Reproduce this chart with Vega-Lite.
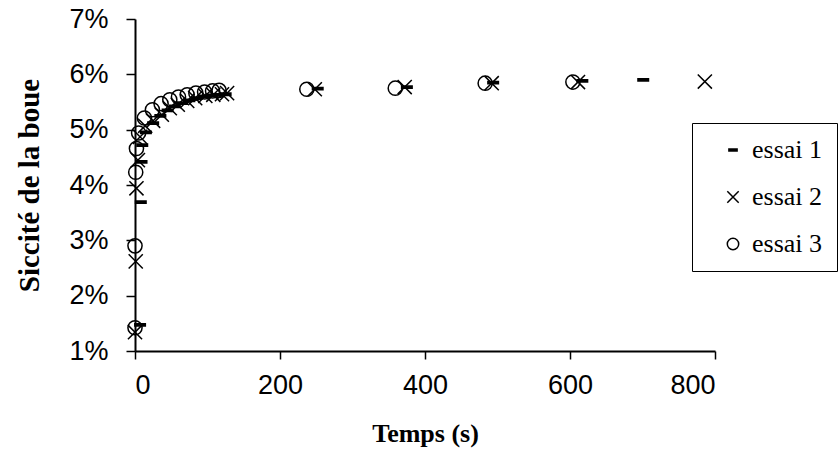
{
  "$schema": "https://vega.github.io/schema/vega-lite/v6.json",
  "autosize": {"type": "none"},
  "padding": {"left": 135, "top": 19, "right": 125, "bottom": 119},
  "width": 580,
  "height": 332,
  "background": "white",
  "config": {
    "view": {"stroke": null},
    "axis": {
      "domainColor": "black",
      "domainWidth": 2,
      "tickColor": "black",
      "tickWidth": 1.5,
      "grid": false,
      "labelFont": "Liberation Sans",
      "labelFontSize": 27,
      "labelColor": "black",
      "titleFont": "Liberation Serif",
      "titleFontWeight": "bold",
      "titleColor": "black"
    },
    "legend": {
      "labelFont": "Liberation Serif",
      "labelFontSize": 26,
      "labelColor": "black"
    }
  },
  "data": {
    "values": [
      {"s": "essai 3", "t": 0, "v": 0.0142},
      {"s": "essai 3", "t": 0, "v": 0.0290},
      {"s": "essai 3", "t": 1, "v": 0.0423},
      {"s": "essai 3", "t": 2, "v": 0.0466},
      {"s": "essai 3", "t": 5, "v": 0.0494},
      {"s": "essai 3", "t": 13, "v": 0.0521},
      {"s": "essai 3", "t": 24, "v": 0.0536},
      {"s": "essai 3", "t": 36, "v": 0.0547},
      {"s": "essai 3", "t": 48, "v": 0.0554},
      {"s": "essai 3", "t": 60, "v": 0.0559},
      {"s": "essai 3", "t": 72, "v": 0.0563},
      {"s": "essai 3", "t": 84, "v": 0.0566},
      {"s": "essai 3", "t": 96, "v": 0.0568},
      {"s": "essai 3", "t": 107, "v": 0.0570},
      {"s": "essai 3", "t": 116, "v": 0.0571},
      {"s": "essai 3", "t": 237, "v": 0.0573},
      {"s": "essai 3", "t": 359, "v": 0.0575},
      {"s": "essai 3", "t": 483, "v": 0.0584},
      {"s": "essai 3", "t": 604, "v": 0.0586},
      {"s": "essai 2", "t": 0, "v": 0.0134},
      {"s": "essai 2", "t": 1, "v": 0.0262},
      {"s": "essai 2", "t": 2, "v": 0.0394},
      {"s": "essai 2", "t": 4, "v": 0.0445},
      {"s": "essai 2", "t": 7, "v": 0.0487},
      {"s": "essai 2", "t": 14, "v": 0.0507},
      {"s": "essai 2", "t": 25, "v": 0.0516},
      {"s": "essai 2", "t": 37, "v": 0.0527},
      {"s": "essai 2", "t": 48, "v": 0.0539},
      {"s": "essai 2", "t": 59, "v": 0.0545},
      {"s": "essai 2", "t": 72, "v": 0.0552},
      {"s": "essai 2", "t": 83, "v": 0.0557},
      {"s": "essai 2", "t": 97, "v": 0.0561},
      {"s": "essai 2", "t": 108, "v": 0.0563},
      {"s": "essai 2", "t": 120, "v": 0.0564},
      {"s": "essai 2", "t": 127, "v": 0.0566},
      {"s": "essai 2", "t": 248, "v": 0.0573},
      {"s": "essai 2", "t": 372, "v": 0.0577},
      {"s": "essai 2", "t": 492, "v": 0.0584},
      {"s": "essai 2", "t": 611, "v": 0.0586},
      {"s": "essai 2", "t": 786, "v": 0.0587},
      {"s": "essai 1", "t": 7, "v": 0.0147},
      {"s": "essai 1", "t": 8, "v": 0.0369},
      {"s": "essai 1", "t": 9, "v": 0.0442},
      {"s": "essai 1", "t": 10, "v": 0.0472},
      {"s": "essai 1", "t": 15, "v": 0.0495},
      {"s": "essai 1", "t": 25, "v": 0.0512},
      {"s": "essai 1", "t": 35, "v": 0.0525},
      {"s": "essai 1", "t": 45, "v": 0.0535},
      {"s": "essai 1", "t": 55, "v": 0.0542},
      {"s": "essai 1", "t": 65, "v": 0.0548},
      {"s": "essai 1", "t": 75, "v": 0.0553},
      {"s": "essai 1", "t": 85, "v": 0.0557},
      {"s": "essai 1", "t": 95, "v": 0.0560},
      {"s": "essai 1", "t": 105, "v": 0.0562},
      {"s": "essai 1", "t": 115, "v": 0.0563},
      {"s": "essai 1", "t": 125, "v": 0.0564},
      {"s": "essai 1", "t": 252, "v": 0.0574},
      {"s": "essai 1", "t": 375, "v": 0.0577},
      {"s": "essai 1", "t": 494, "v": 0.0585},
      {"s": "essai 1", "t": 617, "v": 0.0588},
      {"s": "essai 1", "t": 701, "v": 0.0590}
    ]
  },
  "mark": {"type": "point", "filled": false, "color": "black", "strokeWidth": 1.5, "size": 200, "opacity": 1},
  "encoding": {
    "x": {
      "field": "t", "type": "quantitative",
      "scale": {"domain": [0, 800], "nice": false},
      "axis": {"values": [0, 200, 400, 600, 800], "tickSize": 8, "labelPadding": 13, "title": "Temps (s)", "titleFontSize": 26, "titlePadding": 22}
    },
    "y": {
      "field": "v", "type": "quantitative",
      "scale": {"domain": [0.01, 0.07], "nice": false},
      "axis": {"values": [0.01, 0.02, 0.03, 0.04, 0.05, 0.06, 0.07], "format": ".0%", "tickSize": 9, "labelPadding": 18, "title": "Siccité de la boue", "titleFontSize": 29, "titlePadding": 24}
    },
    "shape": {
      "field": "s", "type": "nominal",
      "scale": {"domain": ["essai 1", "essai 2", "essai 3"], "range": ["M-0.85,-0.16L0.85,-0.16M-0.85,0L0.85,0M-0.85,0.16L0.85,0.16", "M-1,-1L1,1M-1,1L1,-1", "circle"]},
      "legend": {
        "title": null,
        "orient": "none",
        "legendX": 557,
        "legendY": 104,
        "strokeColor": "black",
        "fillColor": "white",
        "padding": 14,
        "labelFont": "Liberation Serif",
        "labelFontSize": 26,
        "labelColor": "black",
        "symbolSize": 130,
        "symbolStrokeWidth": 1.5,
        "symbolStrokeColor": "black",
        "symbolFillColor": "transparent",
        "symbolOffset": 14,
        "rowPadding": 21,
        "labelOffset": 6,
        "encode": {
          "legend": {"update": {"strokeWidth": {"value": 1.5}}},
          "labels": {"update": {"font": {"value": "Liberation Serif"}, "fontSize": {"value": 26}}}
        }
      }
    }
  }
}
